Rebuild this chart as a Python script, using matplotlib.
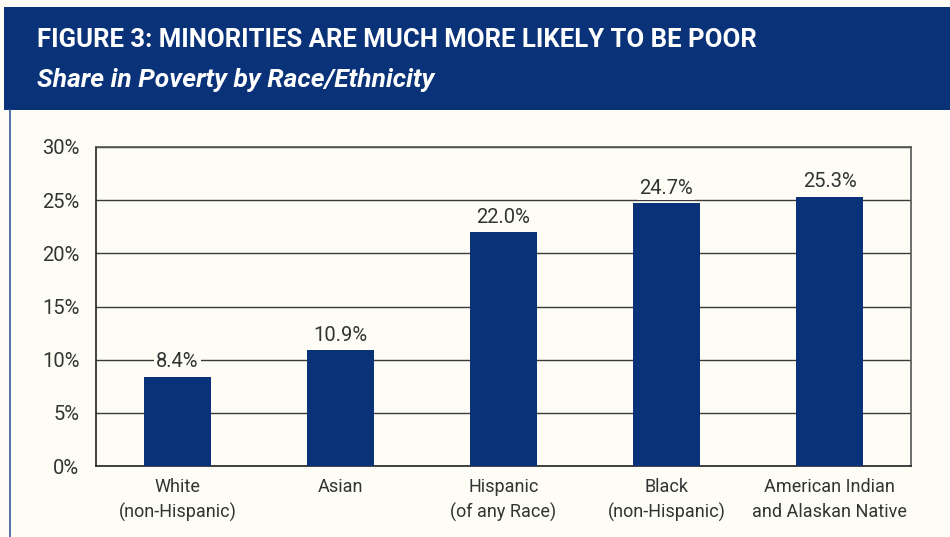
import matplotlib
matplotlib.use("Agg")
import matplotlib.pyplot as plt
from matplotlib.patches import Rectangle
from matplotlib.lines import Line2D
from matplotlib import font_manager

categories = ["White\n(non-Hispanic)", "Asian", "Hispanic\n(of any Race)",
              "Black\n(non-Hispanic)", "American Indian\nand Alaskan Native"]
values = [8.4, 10.9, 22.0, 24.7, 25.3]
yticks = [0, 5, 10, 15, 20, 25, 30]
title = "FIGURE 3: MINORITIES ARE MUCH MORE LIKELY TO BE POOR"
subtitle = "Share in Poverty by Race/Ethnicity"

names = {f.name for f in font_manager.fontManager.ttflist}
FONT = "Roboto" if "Roboto" in names else "DejaVu Sans"

BG = "#fdfdf5"
BLUE = "#0a3278"
TXT = "#333333"

W, H = 950, 537
fig = plt.figure(figsize=(W/100, H/100), dpi=100, facecolor=BG)

# header band
fig.patches.append(Rectangle((4/W, 1-110/H), 1-4/W, 103/H, transform=fig.transFigure,
                             facecolor=BLUE, edgecolor="none"))
fig.lines.append(Line2D([9.5/W, 9.5/W], [0, 1-110/H], transform=fig.transFigure,
                        color="#3a5a9a", lw=1.2))
fig.text(37/W, 1-40/H, title, color="white", fontsize=18.5, fontweight="bold",
         family=FONT, va="center", ha="left")
fig.text(37/W, 1-80/H, subtitle, color="white", fontsize=19, fontweight="bold",
         style="italic", family=FONT, va="center", ha="left")

ax = fig.add_axes([96/W, 1-466/H, (911-96)/W, (466-147)/H])
ax.set_facecolor(BG)
x = list(range(len(categories)))
ax.bar(x, values, width=0.405, color=BLUE, zorder=3)
ax.set_xlim(-0.5, len(categories)-0.5)
ax.set_ylim(0, 30)
ax.set_yticks(yticks)
ax.set_yticklabels([f"{t}%" for t in yticks], family=FONT, fontsize=14.5, color=TXT)
ax.set_xticks(x)
ax.set_xticklabels(categories, family=FONT, fontsize=13, color=TXT, linespacing=1.45)
ax.tick_params(axis="y", length=0, pad=12)
ax.tick_params(axis="x", length=0, pad=9)
ax.grid(axis="y", color="#3a3a3a", lw=1.0, zorder=1)
for s in ax.spines.values():
    s.set_color("#555555")
    s.set_linewidth(1.2)
ax.spines["left"].set_color("#222222")
ax.spines["bottom"].set_color("#222222")
for xi, v in zip(x, values):
    ax.annotate(f"{v:.1f}%", (xi, v), xytext=(0, 4), textcoords="offset points",
                ha="center", va="bottom", family=FONT, fontsize=14.5, color=TXT,
                zorder=4, bbox=dict(facecolor=BG, edgecolor="none", pad=1.5))

fig.savefig("out.png", dpi=100, facecolor=BG)
